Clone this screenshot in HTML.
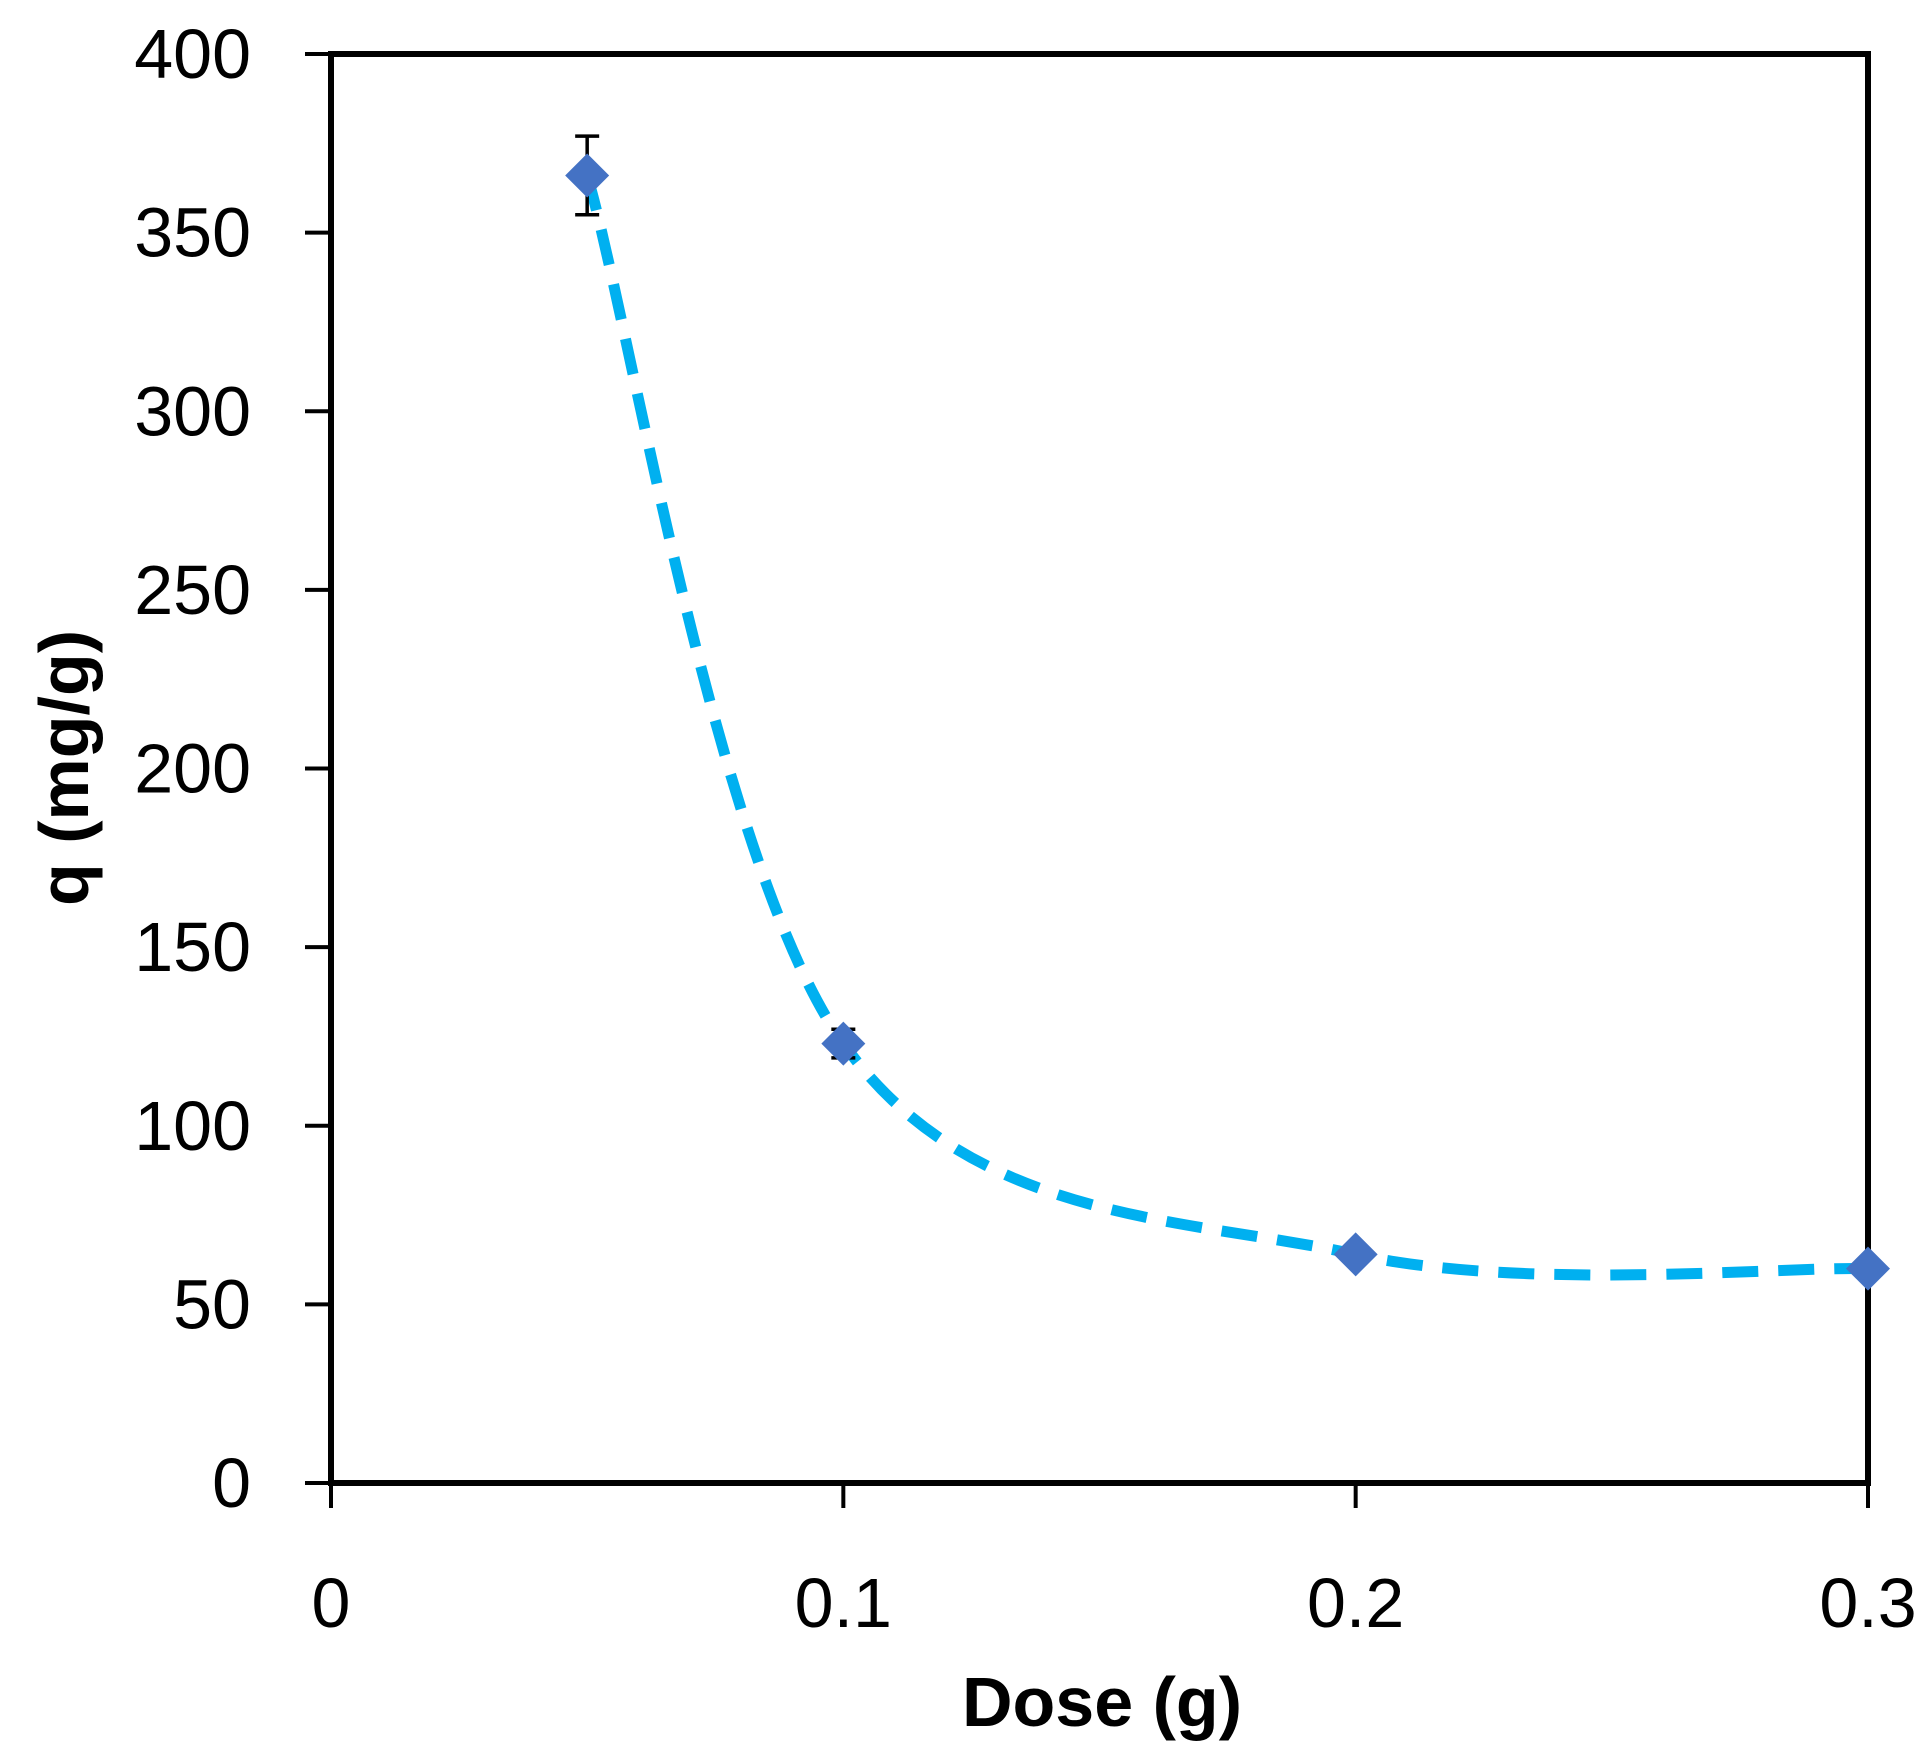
<!DOCTYPE html>
<html><head><meta charset="utf-8"><style>
html,body{margin:0;padding:0;background:#fff;}
svg{display:block;font-family:"Liberation Sans",Calibri,sans-serif;}
</style></head><body>
<svg id="chart" width="1931" height="1759" viewBox="0 0 1931 1759" xmlns="http://www.w3.org/2000/svg"></svg>
<script>
const xTicks = [0, 0.1, 0.2, 0.3];
const xTickLabels = ["0", "0.1", "0.2", "0.3"];
const yTicks = [0, 50, 100, 150, 200, 250, 300, 350, 400];
const yTickLabels = ["0", "50", "100", "150", "200", "250", "300", "350", "400"];
const doses = [0.05, 0.1, 0.2, 0.3];
const qValues = [366, 123, 64, 60];
const qErrors = [11, 4, 0, 0];

const NS = "http://www.w3.org/2000/svg";
const svg = document.getElementById("chart");
const L = 331, R = 1868, T = 54, B = 1483;
const xS = v => L + (v - 0) / 0.3 * (R - L);
const yS = v => B - v / 400 * (B - T);
function mk(tag, attrs, parent) {
  const e = document.createElementNS(NS, tag);
  for (const k in attrs) e.setAttribute(k, attrs[k]);
  (parent || svg).appendChild(e);
  return e;
}
const frame = mk("rect", {x: L, y: T, width: R - L, height: B - T, fill: "none", stroke: "#000", "stroke-width": 6});


yTicks.forEach((v, i) => {
  const t = mk("line", {x1: 305, x2: L, y1: yS(v), y2: yS(v), stroke: "#000", "stroke-width": 4});
  
  
  const lb = mk("text", {x: 251, y: yS(v) + 24, "text-anchor": "end", "font-size": 70, fill: "#000"});
  lb.textContent = yTickLabels[i];
  
  
});
xTicks.forEach((v, i) => {
  const t = mk("line", {x1: xS(v), x2: xS(v), y1: B, y2: 1508, stroke: "#000", "stroke-width": 4});
  
  
  const lb = mk("text", {x: xS(v), y: 1627, "text-anchor": "middle", "font-size": 70, fill: "#000"});
  lb.textContent = xTickLabels[i];
  
  
});
const pts = doses.map((d, i) => [xS(d), yS(qValues[i])]);
let d = "M" + pts[0][0] + "," + pts[0][1];
for (let i = 0; i < pts.length - 1; i++) {
  const p0 = pts[Math.max(0, i - 1)], p1 = pts[i], p2 = pts[i + 1], p3 = pts[Math.min(pts.length - 1, i + 2)];
  const c1 = [p1[0] + (p2[0] - p0[0]) / 6, p1[1] + (p2[1] - p0[1]) / 6];
  const c2 = [p2[0] - (p3[0] - p1[0]) / 6, p2[1] - (p3[1] - p1[1]) / 6];
  d += " C" + c1[0] + "," + c1[1] + " " + c2[0] + "," + c2[1] + " " + p2[0] + "," + p2[1];
}
const curve = mk("path", {d: d, fill: "none", stroke: "#00B0F0", "stroke-width": 11, "stroke-dasharray": "36 20"});


doses.forEach((x, i) => {
  if (!qErrors[i]) return;
  const cx = xS(x), y1 = yS(qValues[i] + qErrors[i]), y2 = yS(qValues[i] - qErrors[i]);
  const g = mk("g", {stroke: "#000", "stroke-width": 3.5});
  
  
  mk("line", {x1: cx, x2: cx, y1: y1, y2: y2}, g);
  mk("line", {x1: cx - 12, x2: cx + 12, y1: y1, y2: y1}, g);
  mk("line", {x1: cx - 12, x2: cx + 12, y1: y2, y2: y2}, g);
});
doses.forEach((x, i) => {
  const cx = xS(x), cy = yS(qValues[i]), s = 22;
  const m = mk("polygon", {points: `${cx},${cy - s} ${cx + s},${cy} ${cx},${cy + s} ${cx - s},${cy}`, fill: "#4472C4"});
  
  
});
const xt = mk("text", {x: 1102, y: 1726, "text-anchor": "middle", "font-size": 70, "font-weight": "bold", fill: "#000"});
xt.textContent = "Dose (g)";


const yt = mk("text", {x: 0, y: 0, "text-anchor": "middle", "font-size": 70, "font-weight": "bold", fill: "#000", transform: "translate(88,768) rotate(-90)"});
yt.textContent = "q (mg/g)";


</script>
</body></html>
